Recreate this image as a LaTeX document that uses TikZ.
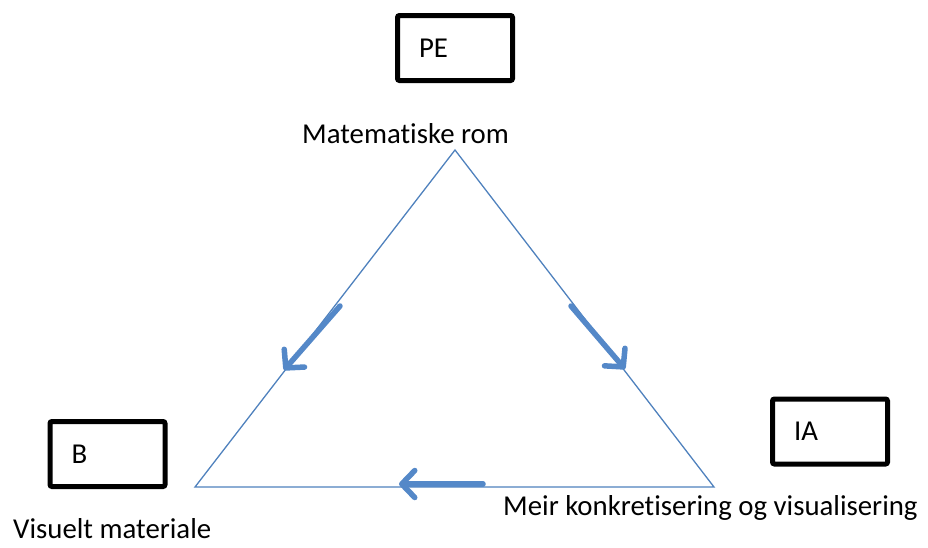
\documentclass[tikz,border=0pt]{standalone}
\usepackage{fontspec}
\setmainfont{Carlito}[Ligatures=NoCommon]
\usetikzlibrary{positioning}
\usetikzlibrary{arrows.meta}
\definecolor{lineblue}{RGB}{79,129,189}
\definecolor{arrowblue}{RGB}{84,136,200}

\begin{document}
\begin{tikzpicture}[x=1pt, y=-1pt,
  box/.style={draw, line width=5pt, rounded corners=2pt, minimum height=65pt,
    text width=72pt, inner xsep=21.5pt, align=left, font=\fontsize{28.8}{34}\selectfont},
  label/.style={anchor=base west, inner sep=0pt, font=\fontsize{28.8}{34}\selectfont},
  side/.style={lineblue, line width=1.3pt},
  flow/.style={arrowblue, line width=5.5pt, line cap=round,
    -{Straight Barb[length=13pt, width=27pt, line cap=round, round]}}]

\useasboundingbox (0,0) rectangle (928,547);

%---------------------------------------
% Corners of the triangle
%---------------------------------------
\coordinate (top)   at (455,150);
\coordinate (left)  at (195,487);
\coordinate (right) at (714,487);

\draw[side] (top) -- (left) -- (right) -- cycle;

% Labels at the corners
\node[label] (rom)  at (302,143) {Matematiske rom};
\node[label] (vis)  at (13,538)  {Visuelt materiale};
\node[label] (konk) at (503,515) {Meir konkretisering og visualisering};

%---------------------------------------
% Boxes
%---------------------------------------
\node[box] (pe) at (455,48)    {PE};
\node[box] (b)  at (107.5,454) {B};
\node[box] (ia) at (830,431.5) {IA};

%---------------------------------------
% Arrows along the sides
%---------------------------------------
\coordinate (lefttail)  at (340,306);
\coordinate (lefttip)   at (284,370);
\coordinate (righttail) at (571,306);
\coordinate (righttip)  at (625,369);
\coordinate (bottail)   at (483,484);
\coordinate (bottip)    at (399,484);

\draw[flow] (lefttail)  -- (lefttip);
\draw[flow] (righttail) -- (righttip);
\draw[flow] (bottail)   -- (bottip);

\end{tikzpicture}
\end{document}
